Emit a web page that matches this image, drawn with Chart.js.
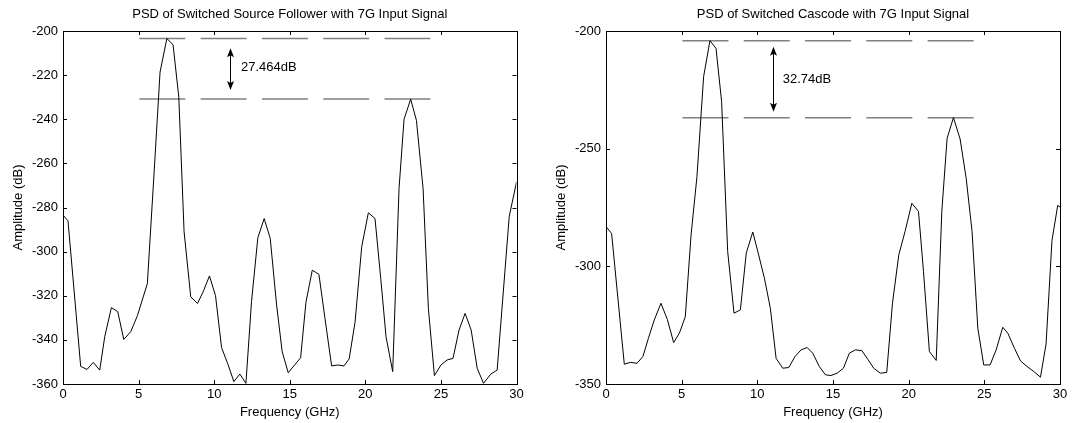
<!DOCTYPE html>
<html>
<head>
<meta charset="utf-8">
<script src="https://cdn.jsdelivr.net/npm/chart.js@4.4.0/dist/chart.umd.min.js"></script>
<style>
    html, body { margin: 0; padding: 0; background: #fff; }
    #wrap { position: relative; width: 1072px; height: 423px; overflow: hidden; }
    .box { position: absolute; top: 0; width: 536px; height: 423px; }
</style>
</head>
<body>
<div id="wrap">
    <div class="box" style="left:0"><canvas id="psdFollower" width="536" height="423"></canvas></div>
    <div class="box" style="left:536px"><canvas id="psdCascode" width="536" height="423"></canvas></div>
</div>
<script>
// switched source follower
var followerFreq = [0, 0.33, 1.17, 1.59, 2.0, 2.43, 2.76, 3.2, 3.62, 4.02, 4.48, 4.92, 5.58, 6.03, 6.42, 6.87, 7.28, 7.66,
    8.01, 8.45, 8.9, 9.27, 9.69, 10.09, 10.49, 10.93, 11.3, 11.7, 12.1, 12.47, 12.89, 13.31, 13.71, 14.13, 14.5, 14.9,
    15.32, 15.72, 16.07, 16.49, 16.93, 17.33, 17.77, 18.17, 18.59, 18.93, 19.32, 19.76, 20.2, 20.64, 21.02, 21.37,
    21.81, 22.23, 22.56, 23.0, 23.38, 23.82, 24.17, 24.57, 25.0, 25.41, 25.8, 26.2, 26.6, 27.0, 27.4, 27.82, 28.3,
    28.72, 29.52, 30];
var followerAmp = [-283.5, -286, -352, -353.4, -350.2, -353.7, -338.6, -325.4, -327.2, -339.8, -336.3, -329.1, -314.5,
    -263.8, -218.6, -203.4, -206.2, -229.9, -291, -320.5, -323.5, -318.2, -311, -320, -343.5, -351.4, -358.9, -355.5,
    -359.7, -322.7, -293.7, -285, -294, -324.2, -345.4, -354.9, -351.4, -348.1, -323, -308.4, -310.3, -330.3, -351.8,
    -351.4, -351.8, -348.6, -332, -297.8, -282.4, -285, -312.2, -338.6, -354.4, -271.4, -240, -230.9, -240.5, -271.4,
    -325.7, -356.2, -351.4, -349.1, -348.4, -335.5, -328, -335.5, -352.9, -359.7, -355.5, -353.7, -284, -268.5];

// switched cascode
var cascodeFreq = [0, 0.37, 1.21, 1.61, 2.05, 2.44, 2.8, 3.19, 3.63, 4.05, 4.47, 4.85, 5.24, 5.62, 6.01, 6.45, 6.87,
    7.27, 7.64, 8.04, 8.46, 8.88, 9.27, 9.7, 10.09, 10.47, 10.86, 11.24, 11.68, 12.08, 12.49, 12.89, 13.29, 13.66,
    14.1, 14.5, 14.87, 15.27, 15.69, 16.08, 16.48, 16.9, 17.3, 17.69, 18.13, 18.55, 18.93, 19.35, 19.76, 20.21,
    20.65, 20.98, 21.37, 21.82, 22.19, 22.54, 22.96, 23.4, 23.8, 24.19, 24.57, 24.96, 25.38, 25.78, 26.22, 26.55,
    26.99, 27.39, 27.83, 28.27, 28.71, 29.08, 29.47, 29.85, 30];
var cascodeAmp = [-283.1, -286, -341.6, -340.8, -341.2, -338.3, -330.6, -322.8, -315.7, -322.5, -332.4, -328.4,
    -321.4, -286.7, -261.9, -219.4, -204.1, -207.4, -230, -293.7, -319.9, -318.5, -294.3, -285.4, -295.2, -305.1,
    -317.8, -339.1, -343.3, -343, -338.3, -335.5, -334.5, -336.9, -342.6, -346.1, -346.4, -345.4, -343.3, -336.9,
    -335.5, -335.8, -339.5, -343.3, -345.4, -345.1, -315.7, -295, -285.2, -273.2, -276.7, -302.2, -336.2, -340,
    -276.7, -245.6, -236.8, -245.9, -262.6, -285.2, -326.3, -341.9, -341.9, -335.5, -325.9, -328.4, -334.8, -340.2,
    -342.6, -344.7, -347.1, -333, -289, -274.1, -274.8];

// dashed reference levels (fundamental and image peak) and their span
var followerLevels = [-203.4, -230.864];
var cascodeLevels = [-204.1, -236.84];
var levelSpan = [5.05, 24.3];

// double arrow between the levels
var followerArrow = { x: 11.05, top: -207.8, bottom: -226.7, text: '27.464dB', textX: 11.77, textY: -216.6 };
var cascodeArrow = { x: 11.02, top: -206.7, bottom: -234.3, text: '32.74dB', textX: 11.68, textY: -220.4 };

var fontFamily = '"Liberation Sans", Arial, Helvetica, sans-serif';
Chart.defaults.font.family = fontFamily;
Chart.defaults.color = '#000';

function toPoints(xs, ys) {
    var pts = [];
    for (var i = 0; i < xs.length; i++) {
        pts.push({ x: xs[i], y: ys[i] });
    }
    return pts;
}

function levelLine(level) {
    return {
        data: [{ x: levelSpan[0], y: level }, { x: levelSpan[1], y: level }],
        borderColor: '#808080',
        borderWidth: 1.5,
        borderDash: [46, 15.3],
        pointRadius: 0,
        fill: false
    };
}

// MATLAB style box with ticks pointing inside
var boxTicks = {
    id: 'boxTicks',
    afterDraw: function (chart) {
        var ctx = chart.ctx;
        var a = chart.chartArea;
        var xs = chart.scales.x;
        var ys = chart.scales.y;
        ctx.save();
        ctx.strokeStyle = '#000';
        ctx.lineWidth = 1;
        ctx.strokeRect(Math.round(a.left) + 0.5, Math.round(a.top) + 0.5,
            Math.round(a.right - a.left), Math.round(a.bottom - a.top));
        ctx.beginPath();
        xs.ticks.forEach(function (t) {
            var px = Math.round(xs.getPixelForValue(t.value)) + 0.5;
            ctx.moveTo(px, a.bottom); ctx.lineTo(px, a.bottom - 4);
            ctx.moveTo(px, a.top); ctx.lineTo(px, a.top + 4);
        });
        ys.ticks.forEach(function (t) {
            var py = Math.round(ys.getPixelForValue(t.value)) + 0.5;
            ctx.moveTo(a.left, py); ctx.lineTo(a.left + 4, py);
            ctx.moveTo(a.right, py); ctx.lineTo(a.right - 4, py);
        });
        ctx.stroke();
        ctx.restore();
    }
};

var gapArrow = {
    id: 'gapArrow',
    afterDatasetsDraw: function (chart, args, opts) {
        if (!opts || opts.x === undefined) {
            return;
        }
        var ctx = chart.ctx;
        var xs = chart.scales.x;
        var ys = chart.scales.y;
        var px = Math.round(xs.getPixelForValue(opts.x)) + 0.5;
        var top = ys.getPixelForValue(opts.top);
        var bottom = ys.getPixelForValue(opts.bottom);
        ctx.save();
        ctx.strokeStyle = '#000';
        ctx.fillStyle = '#000';
        ctx.lineWidth = 1;
        ctx.beginPath();
        ctx.moveTo(px, top + 6);
        ctx.lineTo(px, bottom - 6);
        ctx.stroke();
        ctx.beginPath();
        ctx.moveTo(px, top);
        ctx.lineTo(px - 3.5, top + 9);
        ctx.lineTo(px, top + 7);
        ctx.lineTo(px + 3.5, top + 9);
        ctx.closePath();
        ctx.fill();
        ctx.beginPath();
        ctx.moveTo(px, bottom);
        ctx.lineTo(px - 3.5, bottom - 9);
        ctx.lineTo(px, bottom - 7);
        ctx.lineTo(px + 3.5, bottom - 9);
        ctx.closePath();
        ctx.fill();
        ctx.font = '13px ' + fontFamily;
        ctx.textAlign = 'left';
        ctx.textBaseline = 'middle';
        ctx.fillText(opts.text, xs.getPixelForValue(opts.textX), ys.getPixelForValue(opts.textY));
        ctx.restore();
    }
};

function makeChart(canvasId, cfg) {
    return new Chart(document.getElementById(canvasId), {
        type: 'line',
        data: {
            datasets: [{
                data: toPoints(cfg.freq, cfg.amp),
                borderColor: '#000',
                borderWidth: 1,
                pointRadius: 0,
                tension: 0,
                fill: false
            }, levelLine(cfg.levels[0]), levelLine(cfg.levels[1])]
        },
        options: {
            responsive: false,
            animation: false,
            events: [],
            layout: { padding: { left: 0, right: cfg.padRight, top: 0, bottom: 0 } },
            plugins: {
                legend: { display: false },
                tooltip: { enabled: false },
                title: {
                    display: true,
                    text: cfg.title,
                    fullSize: false,
                    color: '#000',
                    font: { size: 13, weight: 'normal' },
                    padding: { top: 7, bottom: 8.4 }
                },
                gapArrow: cfg.arrow
            },
            scales: {
                x: {
                    type: 'linear',
                    min: 0,
                    max: 30,
                    ticks: { stepSize: 5, color: '#000', font: { size: 13 }, padding: 3, maxRotation: 0 },
                    grid: { display: false, drawTicks: false },
                    border: { display: false },
                    title: { display: true, text: 'Frequency (GHz)', color: '#000', font: { size: 13 }, padding: { top: 0, bottom: 2.7 } },
                    afterFit: function (s) { s.height = 39; }
                },
                y: {
                    min: cfg.yMin,
                    max: -200,
                    ticks: { stepSize: cfg.yStep, color: '#000', font: { size: 13 }, padding: 5 },
                    grid: { display: false, drawTicks: false },
                    border: { display: false },
                    title: { display: true, text: 'Amplitude (dB)', color: '#000', font: { size: 13 }, padding: { top: cfg.yTitlePad, bottom: 0 } },
                    afterFit: function (s) { s.width = cfg.yWidth; }
                }
            }
        },
        plugins: [boxTicks, gapArrow]
    });
}

makeChart('psdFollower', {
    title: 'PSD of Switched Source Follower with 7G Input Signal',
    freq: followerFreq,
    amp: followerAmp,
    levels: followerLevels,
    arrow: followerArrow,
    yMin: -360,
    yStep: 20,
    yWidth: 63,
    yTitlePad: 10.2,
    padRight: 19.5
});

makeChart('psdCascode', {
    title: 'PSD of Switched Cascode with 7G Input Signal',
    freq: cascodeFreq,
    amp: cascodeAmp,
    levels: cascodeLevels,
    arrow: cascodeArrow,
    yMin: -350,
    yStep: 50,
    yWidth: 70,
    yTitlePad: 17.2,
    padRight: 12
});
</script>
</body>
</html>
